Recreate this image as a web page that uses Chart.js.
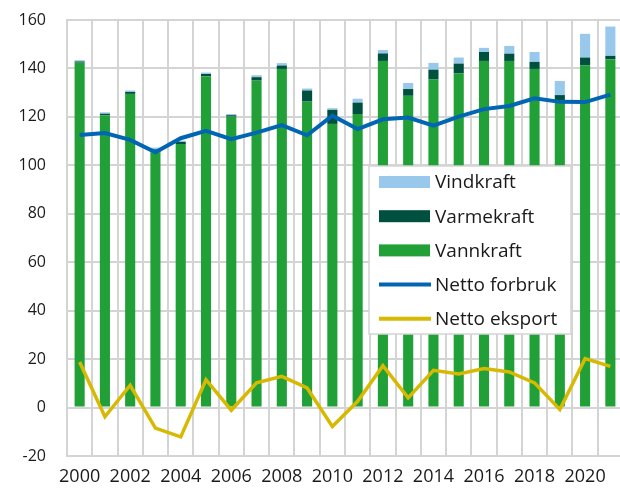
<!DOCTYPE html>
<html>
<head>
<meta charset="utf-8">
<script src="https://cdn.jsdelivr.net/npm/chart.js@4"></script>
<style>
  html, body { margin: 0; padding: 0; background: #fff; overflow: hidden; }
</style>
</head>
<body>
<canvas id="kraft" width="623" height="488"></canvas>
<script>
// Kraftproduksjon, forbruk og eksport (TWh)
const years = ['2000', '2001', '2002', '2003', '2004', '2005', '2006', '2007', '2008', '2009', '2010',
               '2011', '2012', '2013', '2014', '2015', '2016', '2017', '2018', '2019', '2020', '2021'];

const vannkraft = [142.4, 120.7, 129.5, 105.4, 108.8, 136.8, 120.1, 135.0, 139.8, 126.3, 117.1,
                   121.2, 143.1, 128.7, 135.5, 138.0, 143.1, 143.1, 139.8, 126.9, 141.3, 143.8];
const varmekraft = [0.5, 0.6, 0.8, 1.2, 0.9, 0.9, 0.6, 1.4, 1.4, 4.6, 5.8,
                    4.7, 3.1, 2.8, 4.0, 4.0, 3.7, 3.0, 2.9, 2.1, 3.2, 1.4];
const vindkraft = [0.5, 0.6, 0.6, 0.7, 0.5, 0.6, 0.5, 0.8, 1.0, 0.8, 0.7,
                   1.6, 1.4, 2.5, 2.8, 2.5, 1.7, 3.2, 4.1, 5.8, 9.8, 12.1];
const nettoForbruk = [112.5, 113.3, 110.5, 105.4, 111.2, 114.2, 110.8, 113.5, 116.6, 112.4, 120.5,
                      115.0, 119.0, 119.7, 116.4, 120.1, 123.2, 124.5, 127.7, 126.2, 126.1, 129.2];
const nettoEksport = [18.8, -3.8, 9.2, -8.5, -12.1, 11.5, -1.1, 10.2, 12.9, 8.1, -7.8,
                      2.6, 17.3, 4.0, 15.4, 13.9, 16.1, 14.7, 10.2, -0.8, 20.2, 17.0];

const yTicks = { min: -20, max: 160, step: 20 };

const gridGrey = '#d4d4d4';
const textColor = '#1a1a1a';
const fontFamily = "'Open Sans', 'Noto Sans', sans-serif";

// legend drawn as a framed box on top of the plot
const legendOrder = [2, 1, 0, 3, 4];
const legendBox = {
  id: 'kraftLegend',
  afterDatasetsDraw(chart) {
    const ctx = chart.ctx;
    const x = 369, y = 166, w = 202, h = 168;
    ctx.save();
    ctx.fillStyle = '#ffffff';
    ctx.fillRect(x, y, w, h);
    ctx.strokeStyle = gridGrey;
    ctx.lineWidth = 1.5;
    ctx.strokeRect(x, y, w, h);
    ctx.font = '19px ' + fontFamily;
    ctx.textBaseline = 'middle';
    ctx.textAlign = 'left';
    legendOrder.forEach((idx, row) => {
      const ds = chart.data.datasets[idx];
      const cy = y + 16 + row * 34.2;
      if (ds.type === 'line') {
        ctx.strokeStyle = ds.borderColor;
        ctx.lineWidth = 4;
        ctx.beginPath();
        ctx.moveTo(x + 10, cy);
        ctx.lineTo(x + 62, cy);
        ctx.stroke();
      } else {
        ctx.fillStyle = ds.backgroundColor;
        ctx.fillRect(x + 10, cy - 6, 51, 12);
      }
      ctx.fillStyle = textColor;
      ctx.fillText(ds.label, x + 66, cy + 1);
    });
    ctx.restore();
  }
};

new Chart(document.getElementById('kraft'), {
  data: {
    labels: years,
    datasets: [
      { type: 'bar', label: 'Vannkraft', data: vannkraft, backgroundColor: '#21a038', stack: 'prod', order: 1 },
      { type: 'bar', label: 'Varmekraft', data: varmekraft, backgroundColor: '#00503f', stack: 'prod', order: 1 },
      { type: 'bar', label: 'Vindkraft', data: vindkraft, backgroundColor: '#98c8ec', stack: 'prod', order: 1 },
      { type: 'line', label: 'Netto forbruk', data: nettoForbruk, borderColor: '#0066b3', borderWidth: 4,
        pointRadius: 0, tension: 0, stack: 'forbruk', order: 0 },
      { type: 'line', label: 'Netto eksport', data: nettoEksport, borderColor: '#d6b900', borderWidth: 3.5,
        pointRadius: 0, tension: 0, stack: 'eksport', order: 0 }
    ]
  },
  options: {
    responsive: false,
    animation: false,
    layout: { padding: { top: 20, right: 0, left: 0, bottom: 0 } },
    datasets: { bar: { barPercentage: 0.4, categoryPercentage: 1.0 } },
    plugins: { legend: { display: false }, tooltip: { enabled: false } },
    scales: {
      x: {
        stacked: true,
        grid: { color: gridGrey, lineWidth: 2, drawTicks: false, offset: true },
        border: { color: gridGrey, width: 2 },
        ticks: {
          autoSkip: false,
          maxRotation: 0,
          padding: 10,
          color: textColor,
          font: { family: fontFamily, size: 18 },
          callback: (val, i) => (i % 2 === 0 ? years[i] : '')
        },
        afterFit: (scale) => { scale.height = 32; }
      },
      y: {
        stacked: true,
        min: yTicks.min,
        max: yTicks.max,
        grid: { color: gridGrey, lineWidth: 2, drawTicks: false },
        border: { color: gridGrey, width: 2 },
        ticks: {
          stepSize: yTicks.step,
          padding: 21,
          color: textColor,
          font: { family: fontFamily, size: 16 }
        },
        afterFit: (scale) => {
          scale.width = 67;
          scale.paddingTop = 10;
          scale.paddingBottom = 10;
        }
      }
    }
  },
  plugins: [legendBox]
});
</script>
</body>
</html>
